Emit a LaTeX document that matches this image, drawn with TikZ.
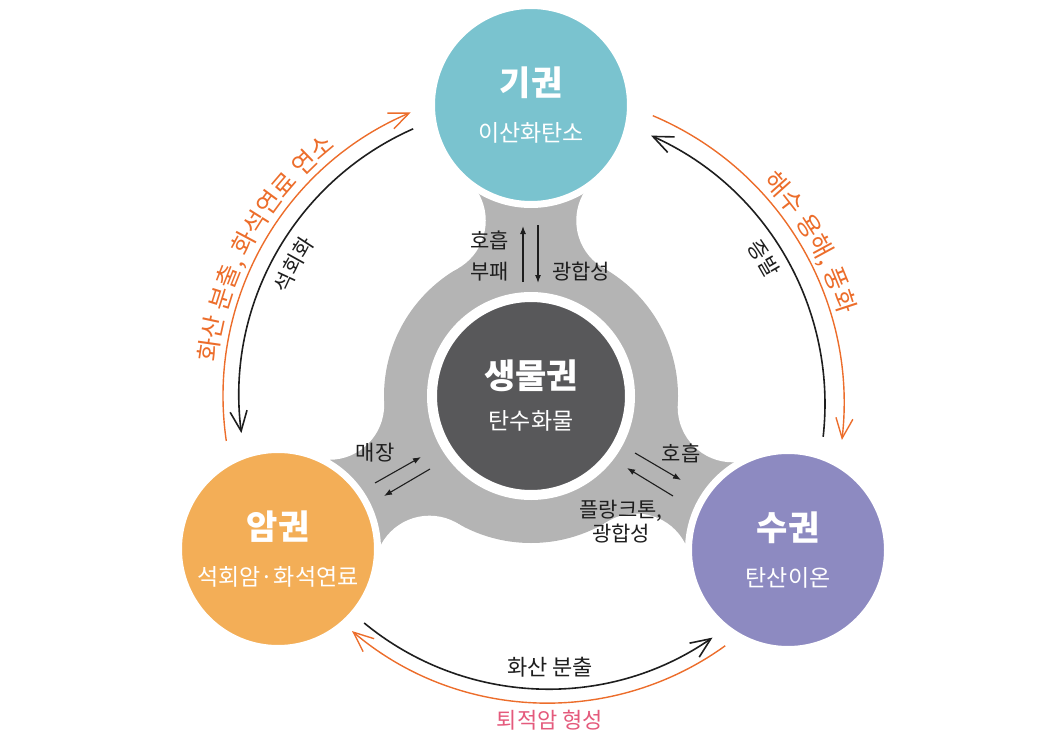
\documentclass[tikz,border=0pt]{standalone}
\usepackage{fontspec}
\setmainfont{Noto Sans CJK KR}
\usetikzlibrary{arrows.meta,intersections,decorations.text}
\definecolor{ink}{HTML}{1E1E1E}
\definecolor{atmfill}{HTML}{7AC3CF}
\definecolor{geofill}{HTML}{F3AE57}
\definecolor{hydfill}{HTML}{8D8AC1}
\definecolor{biofill}{HTML}{58585A}
\definecolor{shellgrey}{HTML}{B4B4B4}
\definecolor{flux}{HTML}{EC6D2B}
\definecolor{rosetext}{HTML}{E45A7C}
\newcommand{\sphtitle}[1]{{\fontsize{34}{34}\selectfont\bfseries #1}}

\tikzset{
  sphere/.style={circle,draw=white,line width=7pt,minimum size=199pt,inner sep=0pt,
                 text=white,align=center,font=\fontsize{23}{46}\selectfont},
  flowlbl/.style={text=ink,inner sep=0pt,font=\fontsize{21}{24}\selectfont},
  cycleink/.style={draw=ink,line width=1.6pt,-{Straight Barb[length=20pt,width=17pt]}},
  cycleorg/.style={draw=flux,line width=1.4pt,-{Straight Barb[length=20pt,width=17pt]}},
  exch/.style={draw=ink,line width=1.1pt,-{Latex[length=8pt,width=6pt]}},
}

\begin{document}
\begin{tikzpicture}[x=1pt,y=-1pt]
  \useasboundingbox (0,0) rectangle (1063,752);

  \coordinate (cbio) at (531,396);
  \coordinate (catm) at (531,105);
  \coordinate (cgeo) at (278,549);
  \coordinate (chyd) at (788,550);
  \coordinate (crgt) at (531,404);
  \coordinate (cbot) at (548,400);

  % grey shell with filleted arms
  \fill[shellgrey] (cbio) circle[radius=147];
  \path[name path=hub] (cbio) circle[radius=202];
  \foreach \arm in {catm,cgeo,chyd}{
    \path[name path=rim] (\arm) circle[radius=153];
    \path[name intersections={of=hub and rim,name=fil}];
    \fill[shellgrey] (cbio) -- (fil-1) -- (\arm) -- (fil-2) -- cycle;
    \fill[white] (fil-1) circle[radius=55] (fil-2) circle[radius=55];
  }

  % spheres
  \node[sphere,fill=atmfill] (atm) at (catm) {\sphtitle{기권}\\이산화탄소};
  \node[sphere,fill=geofill] (geo) at (cgeo) {\sphtitle{암권}\\석회암·화석연료};
  \node[sphere,fill=hydfill] (hyd) at (chyd) {\sphtitle{수권}\\탄산이온};
  \node[sphere,fill=biofill,line width=10pt,minimum size=198pt,
        font=\fontsize{23}{41}\selectfont] (bio) at (cbio) {\sphtitle{생물권}\\탄수화물};

  % exchanges with the biosphere
  \coordinate (up0) at (523,282); \coordinate (up1) at (523,226);
  \coordinate (dn0) at (538,225); \coordinate (dn1) at (538,283);
  \coordinate (gl0) at (375,483); \coordinate (gl1) at (421,457);
  \coordinate (gl2) at (430,469); \coordinate (gl3) at (384,496);
  \coordinate (hr0) at (635,453); \coordinate (hr1) at (681,480);
  \coordinate (hr2) at (673,496); \coordinate (hr3) at (627,468);
  \draw[exch] (up0) -- (up1);
  \draw[exch] (dn0) -- (dn1);
  \draw[exch] (gl0) -- (gl1);
  \draw[exch] (gl2) -- (gl3);
  \draw[exch] (hr0) -- (hr1);
  \draw[exch] (hr2) -- (hr3);

  \node[flowlbl,anchor=east] (resp) at (509,240) {호흡};
  \node[flowlbl,anchor=east] (decay) at (509,272) {부패};
  \node[flowlbl,anchor=west] (photo) at (552,272) {광합성};
  \node[flowlbl] (burial) at (375,453) {매장};
  \node[flowlbl] (resp2) at (681,453) {호흡};
  \node[flowlbl,align=center] (plank) at (621,522) {플랑크톤,\\광합성};

  % outer cycle arcs
  \draw[cycleorg] (cbio) ++(171.6:308) arc[start angle=171.6,end angle=247,radius=308];
  \draw[cycleink] (cbio) ++(246.2:292) arc[start angle=246.2,end angle=172.7,radius=292];
  \draw[cycleorg] (crgt) ++(292.9:313) arc[start angle=292.9,end angle=366.6,radius=313];
  \draw[cycleink] (crgt) ++(366.4:294) arc[start angle=366.4,end angle=294.1,radius=294];
  \draw[cycleink] (cbot) ++(129.5:289) arc[start angle=129.5,end angle=55.3,radius=289];
  \draw[cycleorg] (cbot) ++(54.2:303) arc[start angle=54.2,end angle=130.3,radius=303];

  % arc labels
  \path[decorate,decoration={text along path,text align=center,
    text={|\fontsize{25}{25}\selectfont\color{flux}|화산 분출, 화석연료 연소}}]
    (cbio) ++(168:316) arc[start angle=168,end angle=250,radius=316];
  \path[decorate,decoration={text along path,text align=center,
    text={|\fontsize{21}{21}\selectfont\color{ink}|석회화}}]
    (cbio) ++(196:264) arc[start angle=196,end angle=222,radius=264];
  \path[decorate,decoration={text along path,text align=center,
    text={|\fontsize{25}{25}\selectfont\color{flux}|해수 용해, 풍화}}]
    (crgt) ++(306:321) arc[start angle=306,end angle=354,radius=321];
  \path[decorate,decoration={text along path,text align=center,
    text={|\fontsize{21}{21}\selectfont\color{ink}|증발}}]
    (crgt) ++(316:267) arc[start angle=316,end angle=340,radius=267];

  \node[text=ink,font=\fontsize{22}{22}\selectfont] (erupt) at (550,667) {화산 분출};
  \node[text=rosetext,font=\fontsize{22}{22}\selectfont] (sedim) at (550,720) {퇴적암 형성};
\end{tikzpicture}
\end{document}
